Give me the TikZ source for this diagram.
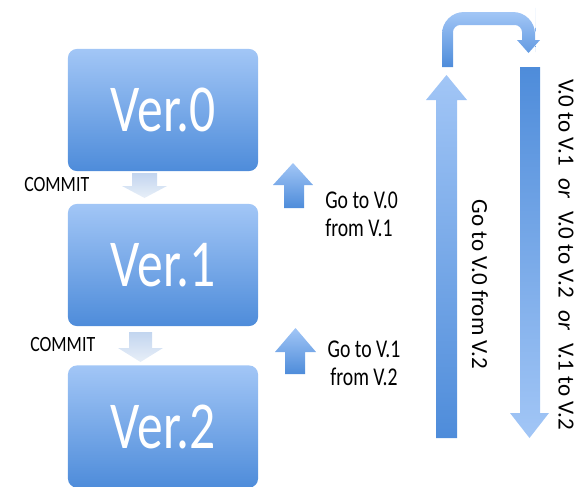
\documentclass[tikz,border=0pt]{standalone}
\usepackage{fontspec}
\setmainfont{Carlito}

\definecolor{boxlight}{RGB}{162,198,246}
\definecolor{boxdark}{RGB}{78,140,218}
\definecolor{palelight}{RGB}{232,239,248}
\definecolor{paledark}{RGB}{194,213,239}

% text in the picture is drawn a little taller than wide
\newcommand{\vstretch}[2][1.3]{\scalebox{1}[#1]{#2}}
\newcommand{\orgap}{\hspace{0.55em}\textit{or}\hspace{0.55em}}

\tikzset{
  verbox/.style={rounded corners=0.22cm, minimum width=4.75cm, minimum height=3.05cm,
    top color=boxlight, bottom color=boxdark, text=white, inner sep=0pt,
    font=\fontsize{36.7}{40}\selectfont},
  notetext/.style={inner sep=0pt, font=\fontsize{14}{19.9}\selectfont},
  committext/.style={inner sep=0pt, font=\fontsize{12.7}{14}\selectfont},
  sidetext/.style={inner sep=0pt, rotate=-90, font=\fontsize{16.4}{18}\selectfont},
  blueup/.style={top color=boxlight, bottom color=boxdark},
  bluedown/.style={top color=boxdark, bottom color=boxlight},
  paledown/.style={top color=paledark, bottom color=palelight}
}

\begin{document}
\begin{tikzpicture}[x=0.025cm,y=-0.025cm]
\clip (0,0) rectangle (581,487);

%Version boxes
\node[verbox] (v0) at (163,110) {\raisebox{-0.07cm}{\vstretch{Ver.0}}};
\node[verbox] (v1) at (163,265) {\raisebox{-0.07cm}{\vstretch{Ver.1}}};
\node[verbox] (v2) at (163,426.5) {\raisebox{-0.07cm}{\vstretch{Ver.2}}};

%Commit arrows between the boxes
\shade[paledown] (132,173) -- (157,173) -- (157,186) -- (167,186) -- (144.5,198)
  -- (122,186) -- (132,186) -- cycle;
\shade[paledown] (129,332) -- (152,332) -- (152,348) -- (163,348) -- (140.5,362)
  -- (118,348) -- (129,348) -- cycle;
\node[committext,anchor=west] (c0) at (24,184.5) {\vstretch[1.22]{COMMIT}};
\node[committext,anchor=west] (c1) at (30,345) {\vstretch[1.22]{COMMIT}};

%Small arrows going back one version
\shade[blueup] (293,163) -- (313,185) -- (304,185) -- (304,208) -- (284,208)
  -- (284,185) -- (273,185) -- cycle;
\shade[blueup] (295.5,328) -- (316,352) -- (305,352) -- (305,374) -- (285,374)
  -- (285,352) -- (275,352) -- cycle;
\node[notetext,anchor=west,align=left] (g0) at (325,214.5)
  {\vstretch{Go to V.0}\\\vstretch{from V.1}};
\node[notetext,align=center] (g1) at (364,363)
  {\vstretch{Go to V.1}\\\vstretch{from V.2}};

%Long arrows on the right
\shade[blueup] (446.5,75) -- (467,100) -- (457,100) -- (457,438) -- (436,438)
  -- (436,100) -- (426,100) -- cycle;
\shade[bluedown] (520,67) -- (540,67) -- (540,413) -- (549,413) -- (529.5,438)
  -- (510,413) -- (520,413) -- cycle;
\shade[blueup] (442,67) -- (442,38) [rounded corners=0.55cm] -- (442,12) -- (535,12)
  -- (535,30) [sharp corners] -- (535,40) -- (540,40) -- (528.5,53) -- (517,40)
  -- (522,40) -- (522,36) [rounded corners=0.18cm] -- (522,25) -- (453,25)
  -- (453,38) [sharp corners] -- (453,67) -- cycle;
\node[sidetext] (s0) at (480,284.5) {Go to V.0 from V.2};
\node[sidetext] (s1) at (566,254.5)
  {V.0 to V.1\orgap V.0 to V.2\orgap V.1 to V.2};
\end{tikzpicture}
\end{document}
